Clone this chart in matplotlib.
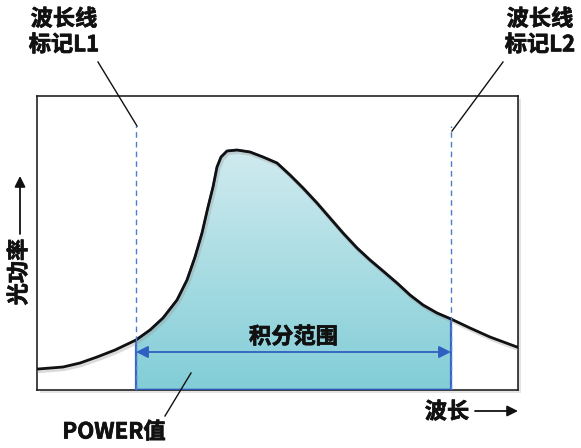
import numpy as np
import matplotlib.pyplot as plt
import matplotlib.patheffects as pe
from matplotlib.patches import Polygon, Rectangle
from matplotlib.colors import LinearSegmentedColormap

plt.rcParams['font.family'] = ['Noto Sans CJK SC', 'DejaVu Sans']

# spectrum (arbitrary units)
wavelength = [1, 26, 43, 60, 78, 99, 113, 126, 140, 150, 158, 165, 171, 176, 180,
              184, 190, 200, 213, 226, 240, 253, 266, 280, 293, 306, 320, 333,
              346, 360, 373, 386, 400, 414, 433, 453, 480]
power = [21, 23, 27, 33, 40, 50, 60, 72, 90, 110, 133, 157, 183, 203, 223,
         233, 239, 240, 238, 233, 227, 215, 202, 187, 172, 157, 142, 130,
         119, 107, 95, 85, 77, 71, 62, 53, 43]
L1 = 99
L2 = 414
arrow_level = 38

XMAX, YMAX = 481, 294
W, H = 581, 448

fig = plt.figure(figsize=(W / 100, H / 100), dpi=100)

# box shadow
bg = fig.add_axes([0, 0, 1, 1], zorder=0)
bg.set_xlim(0, W)
bg.set_ylim(H, 0)
bg.axis('off')
bg.add_patch(Rectangle((40, 99), 481, 294, facecolor='#e4e4e4', edgecolor='none'))

ax = fig.add_axes([37 / W, (H - 390) / H, 481 / W, 294 / H], zorder=1)
ax.set_xlim(0, XMAX)
ax.set_ylim(0, YMAX)
ax.set_xticks([])
ax.set_yticks([])
for s in ax.spines.values():
    s.set_color('#222222')
    s.set_linewidth(1.2)

x = np.array(wavelength, dtype=float)
y = np.array(power, dtype=float)

# integrated region
mask = (x >= L1) & (x <= L2)
xs = x[mask]
ys = y[mask]
poly_pts = [(L1, 0)] + list(zip(xs, ys)) + [(L2, 0)]
poly = Polygon(poly_pts, closed=True, facecolor='none', edgecolor='#3a62c4',
               linewidth=1.6, zorder=3)
ax.add_patch(poly)
grad = np.linspace(0, 1, 256).reshape(-1, 1)
cmap = LinearSegmentedColormap.from_list('g', ['#82cdd7', '#d0ebef'])
im = ax.imshow(grad, cmap=cmap, origin='lower', aspect='auto',
               extent=[L1, L2, 0, ys.max()], zorder=2)
im.set_clip_path(poly)
ax.plot([L1, L2], [0, 0], color='#2f57b8', lw=2.5, zorder=4, solid_capstyle='butt')

# curve with a soft shadow
ax.plot(x + 1.5, y - 2, color='#999999', lw=3, alpha=0.35, zorder=4)
ax.plot(x, y, color='#111111', lw=2, zorder=5, solid_joinstyle='round')

# marker lines
for L in (L1, L2):
    ax.plot([L, L], [0, 264], color='#4a7fd0', lw=1, ls=(0, (4, 3)), zorder=6)

bold = [pe.withStroke(linewidth=0.5, foreground='#111111')]

ax.annotate('', xy=(L1, arrow_level), xytext=(L2, arrow_level),
            arrowprops=dict(arrowstyle='<|-|>', color='#2f5fc0', lw=1.3,
                            mutation_scale=18, shrinkA=0, shrinkB=0), zorder=7)
ax.text((L1 + L2) / 2, arrow_level + 15, '积分范围', ha='center', va='center',
        fontsize=16, fontweight='bold', color='#111111', zorder=8, path_effects=bold)

# labels and pointers
ov = fig.add_axes([0, 0, 1, 1], zorder=2)
ov.set_xlim(0, W)
ov.set_ylim(H, 0)
ov.axis('off')

tkw = dict(fontsize=16, fontweight='bold', color='#111111', linespacing=1.15,
           path_effects=bold)
ov.text(64, 32, '波长线\n标记L1', ha='center', va='center', **tkw)
ov.text(540, 32, '波长线\n标记L2', ha='center', va='center', **tkw)
ov.plot([98, 137], [62, 126], color='#111111', lw=1)
ov.plot([503, 452], [62, 131], color='#111111', lw=1)

ov.text(114, 432, 'POWER值', ha='center', va='center', **tkw)
ov.plot([165, 191], [416, 373], color='#111111', lw=1)

ov.text(447, 412, '波长', ha='center', va='center', **tkw)
ov.annotate('', xy=(518, 411), xytext=(475, 411),
            arrowprops=dict(arrowstyle='-|>', color='#111111', lw=1.3,
                            mutation_scale=16, shrinkA=0, shrinkB=0))

ov.text(19, 272, '光功率', ha='center', va='center', rotation=90, **tkw)
ov.annotate('', xy=(20, 176), xytext=(20, 234),
            arrowprops=dict(arrowstyle='-|>', color='#111111', lw=1.3,
                            mutation_scale=16, shrinkA=0, shrinkB=0))

fig.savefig('out.png', dpi=100)
